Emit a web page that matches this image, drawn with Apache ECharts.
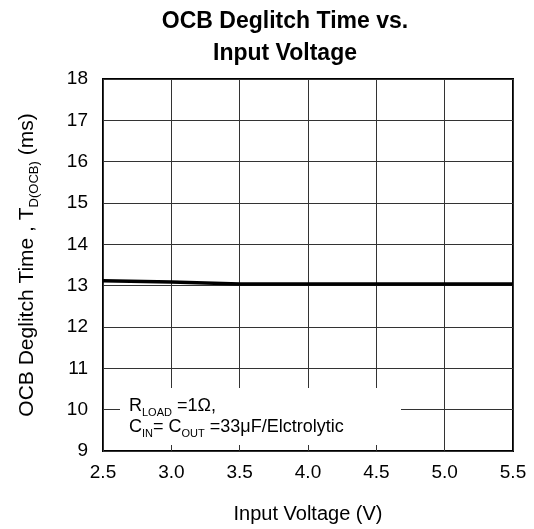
<!DOCTYPE html>
<html><head><meta charset="utf-8">
<script src="https://cdn.jsdelivr.net/npm/echarts@6/dist/echarts.min.js"></script>
<style>html,body{margin:0;padding:0;background:#fff}#c{width:534px;height:529px}</style>
</head><body><div id="c"></div>
<script>
const inputVoltage = [2.5, 3.0, 3.5, 4.0, 4.5, 5.0, 5.5];
const deglitchTime = [13.12, 13.09, 13.04, 13.04, 13.04, 13.04, 13.04];
const xTicks = ['2.5','3.0','3.5','4.0','4.5','5.0','5.5'];
const yRange = [9, 18];

const F = '"Liberation Sans", Arial, sans-serif';
const chart = echarts.init(document.getElementById('c'));
chart.setOption({
  animation: false,
  title: {
    text: 'OCB Deglitch Time vs.\nInput Voltage',
    left: 285, top: 5, textAlign: 'center', padding: 0,
    textStyle: { fontFamily: F, fontSize: 23, fontWeight: 'bold', color: '#000', lineHeight: 32.5 }
  },
  grid: { left: 103, right: 21, top: 79, bottom: 78, show: true, borderColor: '#000', borderWidth: 2 },
  xAxis: {
    type: 'value', min: 2.5, max: 5.5, interval: 0.5,
    name: 'Input Voltage (V)', nameLocation: 'middle', nameGap: 53,
    nameTextStyle: { fontFamily: F, fontSize: 20, color: '#000' },
    axisLine: { show: false }, axisTick: { show: false },
    axisLabel: { fontFamily: F, fontSize: 19, color: '#000', margin: 12,
      formatter: v => { const i = inputVoltage.indexOf(+v.toFixed(1)); return i >= 0 ? xTicks[i] : ''; } },
    splitLine: { show: true, lineStyle: { color: '#333', width: 1 } }
  },
  yAxis: {
    type: 'value', min: yRange[0], max: yRange[1], interval: 1,
    name: '{a|OCB Deglitch Time , T}{s|D(OCB)}{a| (ms)}', nameLocation: 'middle', nameGap: 62,
    nameTextStyle: { fontFamily: F, fontSize: 21, color: '#000',
      rich: { a: { fontFamily: F, fontSize: 21, color: '#000' },
              s: { fontFamily: F, fontSize: 13, color: '#000', padding: [14, 0, 0, 0] } } },
    axisLine: { show: false }, axisTick: { show: false },
    axisLabel: { fontFamily: F, fontSize: 19, color: '#000', margin: 15 },
    splitLine: { show: true, lineStyle: { color: '#333', width: 1 } }
  },
  graphic: [
    { type: 'rect', shape: { x: 120, y: 388, width: 281, height: 57 }, style: { fill: '#fff' }, z: 10 },
    { type: 'text', x: 129, y: 395, z: 11, style: {
        text: '{a|R}{s|LOAD}{a| =1Ω,}', fill: '#000',
        rich: { a: { fontFamily: F, fontSize: 18, fill: '#000' }, s: { fontFamily: F, fontSize: 11, fill: '#000', padding: [12, 0, 0, 0] } } } },
    { type: 'text', x: 129, y: 416, z: 11, style: {
        text: '{a|C}{s|IN}{a|= C}{s|OUT}{a| =33μF/Elctrolytic}', fill: '#000',
        rich: { a: { fontFamily: F, fontSize: 18, fill: '#000' }, s: { fontFamily: F, fontSize: 11, fill: '#000', padding: [12, 0, 0, 0] } } } }
  ],
  series: [{
    type: 'line', data: inputVoltage.map((x, i) => [x, deglitchTime[i]]),
    showSymbol: false, lineStyle: { color: '#000', width: 3.5 }, z: 5
  }]
});
</script></body></html>
